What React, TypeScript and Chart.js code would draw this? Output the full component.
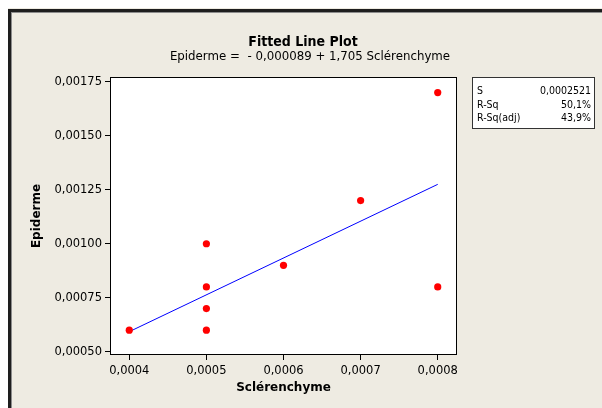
import { useEffect, useRef } from "react";
import { Chart, registerables } from "chart.js";

Chart.register(...registerables);

// Observations
const sclerenchyme = [0.0004, 0.0005, 0.0005, 0.0005, 0.0005, 0.0006, 0.0007, 0.0008, 0.0008];
const epiderme = [0.0006, 0.001, 0.0008, 0.0007, 0.0006, 0.0009, 0.0012, 0.0017, 0.0008];

// Regression fit: Epiderme = intercept + slope * Sclérenchyme
const fitIntercept = -0.000089;
const fitSlope = 1.705;
const fitRange = [0.0004, 0.0008];

// Axes
const xTicks = [0.0004, 0.0005, 0.0006, 0.0007, 0.0008];
const xTickLabels = ["0,0004", "0,0005", "0,0006", "0,0007", "0,0008"];
const yTicks = [0.0005, 0.00075, 0.001, 0.00125, 0.0015, 0.00175];
const yTickLabels = ["0,00050", "0,00075", "0,00100", "0,00125", "0,00150", "0,00175"];

// Summary table
const statNames = ["S", "R-Sq", "R-Sq(adj)"];
const statValues = ["0,0002521", "50,1%", "43,9%"];

const titleText = "Fitted Line Plot";
const subtitleText = "Epiderme =  - 0,000089 + 1,705 Sclérenchyme";

const FONT = "'DejaVu Sans', sans-serif";
const COND = "'DejaVu Sans Condensed', 'DejaVu Sans', sans-serif";
const W = 602;
const H = 408;

const framePlugin = {
  id: "minitabFrame",
  beforeDraw(chart: Chart) {
    const { ctx, chartArea: a } = chart;
    ctx.save();
    ctx.fillStyle = "#EEEBE2";
    ctx.fillRect(0, 0, W, H);
    ctx.fillStyle = "#FFFFFF";
    ctx.fillRect(0, 0, W, 8);
    ctx.fillRect(0, 0, 8, H);
    // outer frame (top and left edges)
    ctx.fillStyle = "#1E1E1E";
    ctx.fillRect(8, 9, W, 3);
    ctx.fillRect(8, 9, 3, H);
    ctx.fillStyle = "#8C8C8C";
    ctx.fillRect(11, 12, W, 1);
    ctx.fillRect(11, 12, 1, H);
    // data region
    ctx.fillStyle = "#FFFFFF";
    ctx.fillRect(a.left, a.top, a.right - a.left, a.bottom - a.top);
    ctx.restore();
  },
  afterDraw(chart: Chart) {
    const { ctx, chartArea: a } = chart;
    ctx.save();
    ctx.strokeStyle = "#000000";
    ctx.lineWidth = 1;
    ctx.strokeRect(a.left + 0.5, a.top + 0.5, a.right - a.left - 1, a.bottom - a.top - 1);

    ctx.fillStyle = "#000000";
    ctx.textAlign = "center";
    ctx.textBaseline = "alphabetic";
    ctx.font = `bold 14px ${COND}`;
    ctx.fillText(titleText, 303, 46);
    ctx.font = `11.8px ${FONT}`;
    ctx.fillText(subtitleText, 310, 60);

    // summary table
    const bx = 472;
    const by = 77;
    const bw = 123;
    const bh = 52;
    ctx.fillStyle = "#FFFFFF";
    ctx.fillRect(bx, by, bw, bh);
    ctx.strokeStyle = "#333333";
    ctx.strokeRect(bx + 0.5, by + 0.5, bw - 1, bh - 1);
    ctx.fillStyle = "#000000";
    ctx.font = `10.5px ${COND}`;
    statNames.forEach((name, i) => {
      const y = by + 17 + i * 13.5;
      ctx.textAlign = "left";
      ctx.fillText(name, bx + 5, y);
      ctx.textAlign = "right";
      ctx.fillText(statValues[i], bx + bw - 4, y);
    });
    ctx.restore();
  },
};

export default function App() {
  const canvasRef = useRef<HTMLCanvasElement | null>(null);

  useEffect(() => {
    const canvas = canvasRef.current;
    if (!canvas) return;
    const points = sclerenchyme.map((x, i) => ({ x, y: epiderme[i] }));
    const fitLine = fitRange.map((x) => ({ x, y: fitIntercept + fitSlope * x }));

    const chart = new Chart(canvas, {
      type: "scatter",
      data: {
        datasets: [
          {
            label: "Epiderme",
            data: points,
            pointRadius: 3.6,
            pointHoverRadius: 3.6,
            pointBackgroundColor: "#FF0000",
            pointBorderWidth: 0,
            borderColor: "#FF0000",
            showLine: false,
          },
          {
            label: "Fit",
            data: fitLine,
            showLine: true,
            pointRadius: 0,
            borderColor: "#0000FF",
            borderWidth: 1,
          },
        ],
      },
      options: {
        responsive: false,
        animation: false,
        devicePixelRatio: 1,
        layout: { padding: { left: 0, top: 77, right: 145, bottom: 0 } },
        plugins: {
          legend: { display: false },
          tooltip: { enabled: false },
          title: { display: false },
        },
        scales: {
          x: {
            type: "linear",
            min: 0.000375,
            max: 0.000825,
            afterBuildTicks: (s: any) => {
              s.ticks = xTicks.map((value) => ({ value }));
            },
            afterFit: (s: any) => {
              s.height = 53;
            },
            ticks: {
              callback: (_v: any, i: number) => xTickLabels[i],
              color: "#000000",
              font: { family: FONT, size: 11.5 },
              padding: 4,
              maxRotation: 0,
              autoSkip: false,
            },
            grid: {
              drawOnChartArea: false,
              drawTicks: true,
              tickLength: 5,
              color: "#000000",
            },
            border: { display: false },
            title: {
              display: true,
              text: "Sclérenchyme",
              color: "#000000",
              font: { family: FONT, size: 12, weight: "bold" },
              padding: { top: 0, bottom: 13 },
            },
          },
          y: {
            type: "linear",
            min: 0.000485,
            max: 0.001772,
            afterBuildTicks: (s: any) => {
              s.ticks = yTicks.map((value) => ({ value }));
            },
            afterFit: (s: any) => {
              s.width = 110;
            },
            ticks: {
              callback: (_v: any, i: number) => yTickLabels[i],
              color: "#000000",
              font: { family: FONT, size: 11.5 },
              padding: 3,
              autoSkip: false,
            },
            grid: {
              drawOnChartArea: false,
              drawTicks: true,
              tickLength: 5,
              color: "#000000",
            },
            border: { display: false },
            title: {
              display: true,
              text: "Epiderme",
              color: "#000000",
              font: { family: FONT, size: 12, weight: "bold" },
              padding: { top: 30, bottom: 0 },
            },
          },
        },
      },
      plugins: [framePlugin],
    });
    return () => chart.destroy();
  }, []);

  return (
    <div style={{ position: "fixed", left: 0, top: 0, width: W, height: H }}>
      <canvas ref={canvasRef} width={W} height={H} style={{ display: "block", width: W, height: H }} />
    </div>
  );
}
